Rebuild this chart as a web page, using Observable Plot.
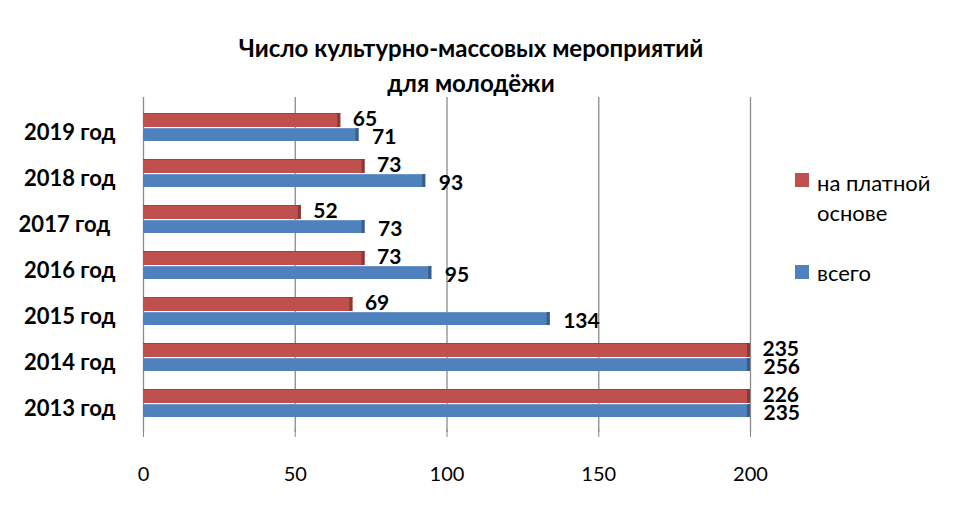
<!DOCTYPE html>
<html><head><meta charset="utf-8">
<script src="https://cdn.jsdelivr.net/npm/d3@7"></script>
<script src="https://cdn.jsdelivr.net/npm/@observablehq/plot@0.6"></script>
<style>
body{margin:0;background:#fff;font-family:Lato,"Open Sans",sans-serif;}
#wrap{position:relative;width:960px;height:510px;overflow:hidden;}
#title{position:absolute;left:0;top:30px;width:942px;text-align:center;font-weight:bold;font-size:24px;line-height:35px;color:#000;}
#chart{position:absolute;left:0;top:90px;}
.lg{position:absolute;font-size:22px;color:#000;line-height:30px;}
.sw{position:absolute;width:14px;height:14px;}
</style></head>
<body>
<div id="wrap">
<div id="title">Число культурно-массовых мероприятий<br>для молодёжи</div>
<div id="chart"></div>
<div class="sw" style="left:795px;top:173px;background:#C0504D"></div>
<div class="lg" style="left:817px;top:168px;">на платной<br>основе</div>
<div class="sw" style="left:795px;top:265px;background:#4F81BD"></div>
<div class="lg" style="left:817px;top:258px;">всего</div>
</div>
<script>
const years = ["2019 год","2018 год","2017 год\u00a0","2016 год","2015 год","2014 год","2013 год"];
const paid  = [65, 73, 52, 73, 69, 235, 226];
const total = [71, 93, 73, 95, 134, 256, 235];
const xTicks = [0, 50, 100, 150, 200];
const xMax = 200;

const rows = years.map((y, i) => ({year: y, paid: paid[i], total: total[i]}));
const cap = v => Math.min(v, xMax);

const chart = Plot.plot({
  width: 960, height: 420,
  marginLeft: 143, marginRight: 210, marginTop: 13, marginBottom: 81,
  x: {domain: [0, xMax]},
  y: {domain: years, padding: 0},
  style: {fontFamily: "Lato, 'Open Sans', sans-serif", background: "transparent"},
  marks: [
    Plot.ruleX(xTicks, {stroke: "#8a8a8a", strokeWidth: 1.3, insetTop: -6, insetBottom: -3}),
    Plot.axisX(xTicks, {tickSize: 8, tickPadding: 29, stroke: "#8a8a8a", fill: "#000", fontSize: 20, label: null}),
    Plot.axisY({tickSize: 0, tickPadding: 28, fontSize: 22, fontWeight: "bold", fill: "#000", label: null, dy: 4}),
    Plot.barX(rows, {x: "paid", y: "year", fill: "#C0504D", insetTop: 8, insetBottom: 24, clip: true}),
    Plot.barX(rows, {x: "total", y: "year", fill: "#4F81BD", insetTop: 23, insetBottom: 10, clip: true}),
    Plot.barX(rows, {x: "paid", y: "year", fill: "#A33F3C", insetTop: 8, insetBottom: 37, clip: true}),
    Plot.barX(rows, {x: "total", y: "year", fill: "#6D97CC", insetTop: 23, insetBottom: 22, clip: true}),
    Plot.barX(rows, {x1: d => cap(d.paid) - 1, x2: d => cap(d.paid), y: "year", fill: "#8C3836", insetTop: 8, insetBottom: 24}),
    Plot.barX(rows, {x1: d => cap(d.total) - 1, x2: d => cap(d.total), y: "year", fill: "#385D8A", insetTop: 23, insetBottom: 10}),
    Plot.text(rows, {x: d => cap(d.paid), y: "year", text: "paid", dx: 12, dy: -9, textAnchor: "start", fontSize: 21, fontWeight: "bold", fill: "#000"}),
    Plot.text(rows, {x: d => cap(d.total), y: "year", text: "total", dx: 13, dy: 9, textAnchor: "start", fontSize: 21, fontWeight: "bold", fill: "#000"})
  ]
});
document.getElementById("chart").appendChild(chart);
</script>
</body></html>
